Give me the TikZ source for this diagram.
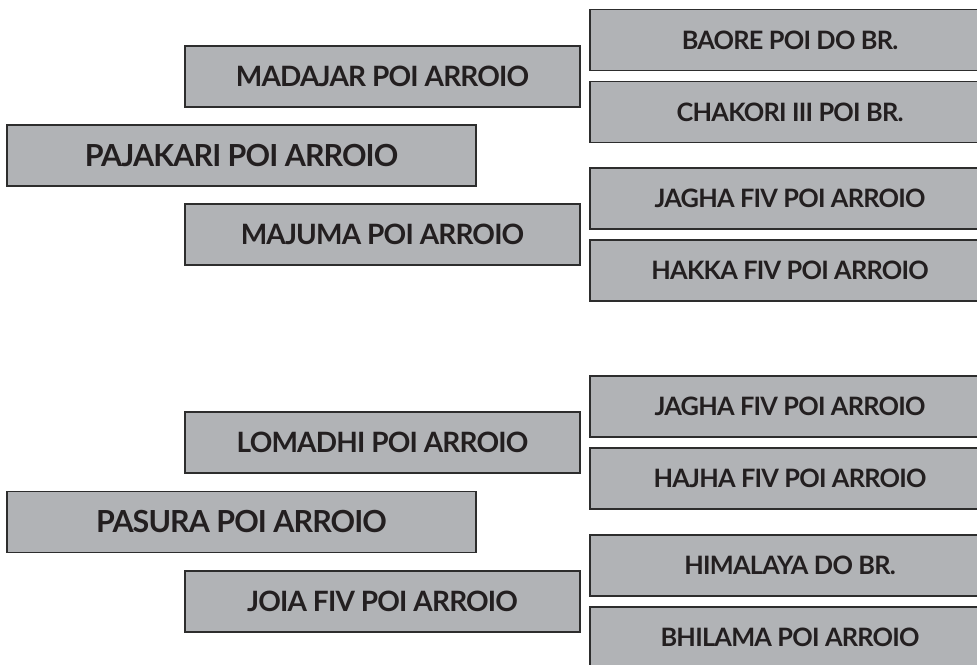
\documentclass[tikz,border=0pt]{standalone}
\usepackage{fontspec}
\setmainfont{Lato}
\newfontfamily\boxfont[LetterSpace=-3]{Lato Bold}
\definecolor{boxgray}{RGB}{177,179,182}
\definecolor{boxline}{RGB}{45,45,45}
\definecolor{inkdark}{RGB}{35,31,32}

\begin{document}
\begin{tikzpicture}[x=0.75pt,y=-0.75pt,
    box/.style={draw=boxline, fill=boxgray, line width=1.3pt, rectangle, inner sep=0pt,
        text=inkdark, minimum height=45.75pt, text depth=0pt},
    rootbox/.style={box, font=\boxfont\fontsize{22.8}{22.8}\selectfont, text height=16.3pt,
        minimum width=351.75pt},
    midbox/.style={box, font=\boxfont\fontsize{21}{21}\selectfont, text height=15pt,
        minimum width=296.25pt},
    leafbox/.style={box, font=\boxfont\fontsize{19}{19}\selectfont, text height=13.6pt,
        minimum width=300pt}]
    \useasboundingbox (0,0) rectangle (977,664);
% upper group
\node [name=pajakari, rootbox] at (241.5,155.5) {PAJAKARI POI ARROIO};
\node [name=madajar, midbox] at (382.5,76.5) {MADAJAR POI ARROIO};
\node [name=majuma, midbox] at (382.5,234.5) {MAJUMA POI ARROIO};
\node [name=baore, leafbox] at (790,40) {BAORE POI DO BR.};
\node [name=chakori, leafbox] at (790,112) {CHAKORI III POI BR.};
\node [name=jaghaA, leafbox] at (790,198.5) {JAGHA FIV POI ARROIO};
\node [name=hakka, leafbox] at (790,270.5) {HAKKA FIV POI ARROIO};
% lower group
\node [name=pasura, rootbox] at (241.5,522) {PASURA POI ARROIO};
\node [name=lomadhi, midbox] at (382.5,442.5) {LOMADHI POI ARROIO};
\node [name=joia, midbox] at (382.5,601.5) {JOIA FIV POI ARROIO};
\node [name=jaghaB, leafbox] at (790,406.5) {JAGHA FIV POI ARROIO};
\node [name=hajha, leafbox] at (790,478.5) {HAJHA FIV POI ARROIO};
\node [name=himalaya, leafbox] at (790,565.5) {HIMALAYA DO BR.};
\node [name=bhilama, leafbox] at (790,637.5) {BHILAMA POI ARROIO};
\end{tikzpicture}
\end{document}
